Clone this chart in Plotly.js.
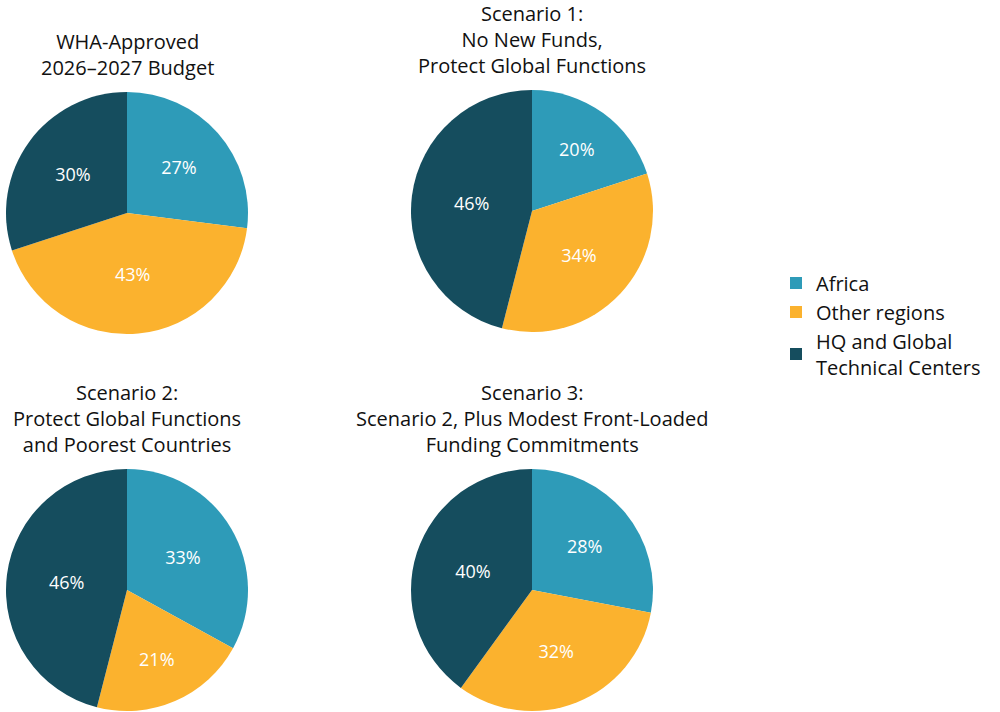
<!DOCTYPE html>
<html><head><meta charset="utf-8">
<script src="https://cdn.plot.ly/plotly-3.0.1.min.js"></script>
<style>html,body{margin:0;padding:0;background:#fff}</style>
</head><body>
<div id="chart" style="width:1000px;height:712px"></div>
<script>
const categories = ["Africa", "Other regions", "HQ and Global<br>Technical Centers"];
const colors = ["#2E9BB8", "#FBB22E", "#154D5E"];
const titles = [
  "WHA-Approved<br>2026–2027 Budget",
  "Scenario 1:<br>No New Funds,<br>Protect Global Functions",
  "Scenario 2:<br>Protect Global Functions<br>and Poorest Countries",
  "Scenario 3:<br>Scenario 2, Plus Modest Front-Loaded<br>Funding Commitments"
];
const whaBudget = [27, 43, 30];
const scenario1 = [20, 34, 46];
const scenario2 = [33, 21, 46];
const scenario3 = [28, 32, 40];
const series = [whaBudget, scenario1, scenario2, scenario3];

const W = 1000, H = 712;
const boxes = [
  {x0: 6, x1: 248, top: 92, bottom: 334},
  {x0: 411, x1: 653, top: 90, bottom: 332},
  {x0: 6, x1: 248, top: 469, bottom: 711},
  {x0: 411, x1: 653, top: 469, bottom: 711}
];
const font = "'Open Sans', Lato, sans-serif";

const data = series.map((vals, i) => ({
  type: "pie",
  labels: categories,
  values: vals,
  sort: false,
  direction: "clockwise",
  rotation: 0,
  marker: {colors: colors, line: {width: 0}},
  texttemplate: "%{value}%",
  textposition: "inside",
  insidetextorientation: "horizontal",
  textfont: {color: "#ffffff", size: 18, family: font},
  hoverinfo: "label+percent",
  showlegend: i === 0,
  domain: {
    x: [boxes[i].x0 / W, boxes[i].x1 / W],
    y: [1 - boxes[i].bottom / H, 1 - boxes[i].top / H]
  }
}));

const annotations = titles.map((t, i) => ({
  text: t,
  x: (boxes[i].x0 + boxes[i].x1) / 2 / W,
  y: 1 - (boxes[i].top - 9) / H,
  xref: "paper", yref: "paper",
  xanchor: "center", yanchor: "bottom",
  showarrow: false,
  font: {size: 20, color: "#111111", family: font}
}));

const layout = {
  width: W, height: H,
  margin: {l: 0, r: 0, t: 0, b: 0},
  paper_bgcolor: "#ffffff",
  font: {family: font, color: "#111111"},
  annotations: annotations,
  legend: {
    x: 0.776, y: 1 - 325 / H, xanchor: "left", yanchor: "middle",
    font: {size: 20, family: font, color: "#111111"},
    tracegroupgap: 0, itemwidth: 30,
    traceorder: "normal"
  }
};

Plotly.newPlot("chart", data, layout, {displayModeBar: false, staticPlot: true});
</script>
</body></html>
